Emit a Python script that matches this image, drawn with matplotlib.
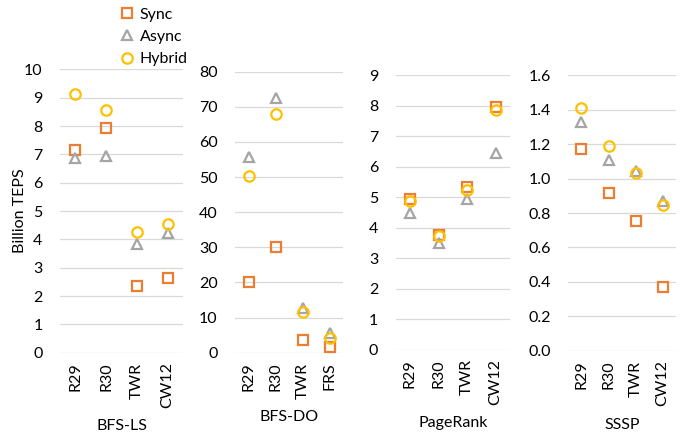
import matplotlib
matplotlib.use("Agg")
import matplotlib.pyplot as plt
from matplotlib.lines import Line2D
from matplotlib.ticker import FormatStrFormatter

plt.rcParams['font.family'] = ['Lato', 'DejaVu Sans']

# Benchmarks and the graphs each one was run on
panels = ["BFS-LS", "BFS-DO", "PageRank", "SSSP"]
graphs_ls = ["R29", "R30", "TWR", "CW12"]
graphs_do = ["R29", "R30", "TWR", "FRS"]
graphs_pr = ["R29", "R30", "TWR", "CW12"]
graphs_sssp = ["R29", "R30", "TWR", "CW12"]

# Throughput in billion TEPS per execution mode
sync_ls = [7.17, 7.92, 2.37, 2.63]
async_ls = [6.88, 6.96, 3.84, 4.21]
hybrid_ls = [9.12, 8.57, 4.27, 4.55]

sync_do = [20.1, 30.1, 3.5, 1.6]
async_do = [55.8, 72.5, 12.8, 5.7]
hybrid_do = [50.3, 68.0, 11.5, 4.3]

sync_pr = [4.93, 3.76, 5.32, 7.96]
async_pr = [4.47, 3.48, 4.93, 6.45]
hybrid_pr = [4.87, 3.72, 5.23, 7.85]

sync_sssp = [1.17, 0.915, 0.754, 0.372]
async_sssp = [1.33, 1.11, 1.045, 0.872]
hybrid_sssp = [1.413, 1.19, 1.035, 0.847]

series_names = ["Sync", "Async", "Hybrid"]
colors = ["#ED7D31", "#A5A5A5", "#FFC000"]
markers = ["s", "^", "o"]

data = [
    (graphs_ls, [sync_ls, async_ls, hybrid_ls], (0, 10), 1, "%d"),
    (graphs_do, [sync_do, async_do, hybrid_do], (0, 80), 10, "%d"),
    (graphs_pr, [sync_pr, async_pr, hybrid_pr], (0, 9), 1, "%d"),
    (graphs_sssp, [sync_sssp, async_sssp, hybrid_sssp], (0, 1.6), 0.2, "%.1f"),
]

# axes rectangles [left, bottom, width, height] in figure fractions
rects = [
    [0.0867, 0.193, 0.1778, 0.648],
    [0.3396, 0.193, 0.1561, 0.643],
    [0.5718, 0.2002, 0.1652, 0.628],
    [0.8208, 0.1975, 0.1561, 0.630],
]

fig = plt.figure(figsize=(6.92, 4.37), dpi=100)
fs = 11.5

for name, (cats, vals, ylim, step, fmt), rect in zip(panels, data, rects, strict=True):
    ax = fig.add_axes(rect)
    x = list(range(len(cats)))
    for v, c, m in zip(vals, colors, markers):
        ax.plot(x, v, linestyle="none", marker=m, markersize=7.5,
                markerfacecolor="none", markeredgecolor=c, markeredgewidth=1.6,
                clip_on=False, zorder=3)
    ax.set_xlim(-0.5, len(cats) - 0.5)
    ax.set_ylim(*ylim)
    n = int(round((ylim[1] - ylim[0]) / step))
    ticks = [ylim[0] + i * step for i in range(n + 1)]
    ax.set_yticks(ticks)
    ax.yaxis.set_major_formatter(FormatStrFormatter(fmt))
    ax.set_xticks(x)
    ax.set_xticklabels(cats, rotation=90)
    ax.tick_params(axis="both", length=0, labelsize=fs, colors="#000000")
    ax.tick_params(axis="y", pad=12.5)
    ax.tick_params(axis="x", pad=7)
    ax.grid(axis="y", color="#D9D9D9", linewidth=0.9, zorder=0)
    ax.set_axisbelow(True)
    for s in ax.spines.values():
        s.set_visible(False)
    ax.set_xlabel(name, fontsize=fs, labelpad=8)
    if name == "BFS-LS":
        ax.set_ylabel("Billion TEPS", fontsize=fs)
        ax.yaxis.set_label_coords(-0.27, 0.5)

handles = [Line2D([], [], linestyle="none", marker=m, markersize=7.5,
                  markerfacecolor="none", markeredgecolor=c, markeredgewidth=1.6)
           for c, m in zip(colors, markers)]
fig.legend(handles, series_names, loc="upper left", bbox_to_anchor=(0.165, 0.997),
           frameon=False, fontsize=fs, handlelength=0.8, handletextpad=0.4,
           labelspacing=0.5, borderaxespad=0)

fig.savefig("out.png", dpi=100, facecolor="white")
